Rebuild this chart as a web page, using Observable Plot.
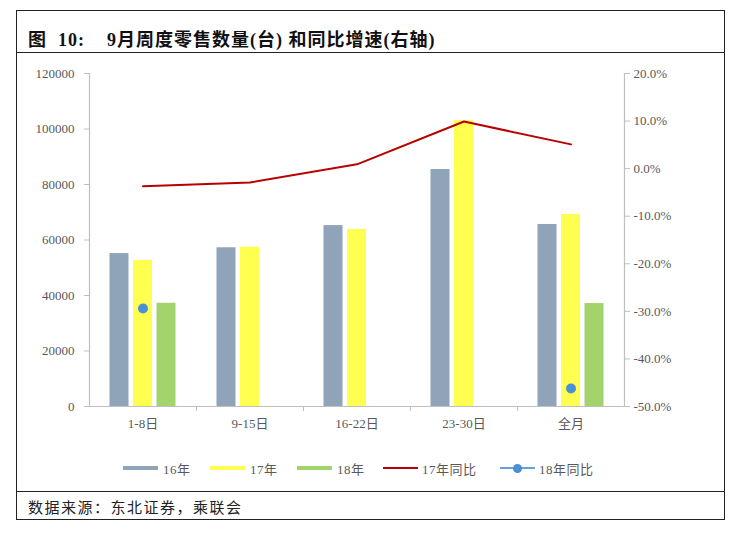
<!DOCTYPE html>
<html>
<head>
<meta charset="utf-8">
<script src="https://cdn.jsdelivr.net/npm/d3@7"></script>
<script src="https://cdn.jsdelivr.net/npm/@observablehq/plot@0.6"></script>
<style>
  html, body { margin: 0; padding: 0; background: #fff; }
  #wrap { position: relative; width: 756px; height: 533px; overflow: hidden; font-family: "Liberation Serif", "Noto Sans CJK SC", serif; }
  .frame { position: absolute; left: 16px; top: 10px; width: 709px; height: 510px; border: 1.5px solid #222; box-sizing: border-box; }
  .hline { position: absolute; left: 16px; width: 709px; height: 0; border-top: 1.5px solid #222; }
  #title { position: absolute; left: 28px; top: 25px; font-size: 18px; letter-spacing: 1px; font-weight: bold; color: #111; white-space: pre; font-family: "Liberation Serif", "Noto Sans CJK SC", serif; }
  #caption { position: absolute; left: 28px; top: 496px; font-size: 15px; letter-spacing: 1.5px; color: #222; font-family: "Noto Sans CJK SC", serif; }
  #chart { position: absolute; left: 0; top: 0; }
  #chart svg text { font-family: "Liberation Serif", "Noto Sans CJK SC", serif; }
  #legend { position: absolute; top: 459px; left: 0; width: 756px; height: 18px; font-size: 13px; color: #595959; font-family: "Liberation Serif", "Noto Sans CJK SC", serif; }
  .item { position: absolute; top: 0; height: 18px; display: flex; align-items: center; }
  .sw { display: inline-block; width: 35px; height: 4px; margin-right: 5px; }
  .ln { position: relative; display: inline-block; width: 35px; height: 2px; margin-right: 4px; }
  .dot { position: absolute; left: 13px; top: -3.5px; width: 9px; height: 9px; border-radius: 50%; }
</style>
</head>
<body>
<div id="wrap">
  <div class="frame"></div>
  <div class="hline" style="top:52px"></div>
  <div class="hline" style="top:491px"></div>
  <div id="title"></div>
  <div id="chart"></div>
  <div id="legend"></div>
  <div id="caption"></div>
</div>
<script>
// ---- data ----
const titleText = "图  10:    9月周度零售数量(台) 和同比增速(右轴)";
const captionText = "数据来源：东北证券，乘联会";
const categories = ["1-8日", "9-15日", "16-22日", "23-30日", "全月"];
const sales16 = [55100, 57200, 65200, 85400, 65600];
const sales17 = [52600, 57400, 63800, 103000, 69200];
const sales18 = [37200, null, null, null, 37100];
const yoy17 = [-3.7, -2.9, 0.9, 9.9, 5.1];
const yoy18 = [-29.4, null, null, null, -46.2];
const leftTicks = [0, 20000, 40000, 60000, 80000, 100000, 120000];
const rightTicks = [-50, -40, -30, -20, -10, 0, 10, 20];
const seriesNames = ["16年", "17年", "18年", "17年同比", "18年同比"];

// ---- styles ----
const colors = {"16年": "#8fa3b9", "17年": "#ffff4f", "18年": "#a3d46c", "17年同比": "#b80000", "18年同比": "#4a90d6"};

// secondary axis mapping (percent -> left scale units)
const pctToLeft = d3.scaleLinear().domain([-50, 20]).range([0, 120000]);

const bars = [];
categories.forEach((c, i) => {
  [[seriesNames[0], sales16], [seriesNames[1], sales17], [seriesNames[2], sales18]].forEach(([s, arr]) => {
    if (arr[i] != null) bars.push({cat: c, series: s, value: arr[i]});
  });
});
const line17 = categories.map((c, i) => ({cat: c, v: pctToLeft(yoy17[i])}));
const dots18 = categories.map((c, i) => ({cat: c, v: yoy18[i] == null ? null : pctToLeft(yoy18[i])})).filter(d => d.v != null);

const offsets = {"16年": -23.5, "17年": 0, "18年": 23.5};
const barMarks = seriesNames.slice(0, 3).map(s => Plot.barY(bars.filter(d => d.series === s), {
  x: "cat", y: "value", fill: colors[s], dx: offsets[s], insetLeft: 44, insetRight: 44
}));

const chart = Plot.plot({
  width: 756,
  height: 440,
  marginLeft: 89,
  marginRight: 132,
  marginTop: 73,
  marginBottom: 34,
  style: {fontFamily: "'Liberation Serif', 'Noto Sans CJK SC', serif", fontSize: "13px", color: "#595959", background: "transparent"},
  x: {type: "band", domain: categories, padding: 0},
  y: {domain: [0, 120000]},
  marks: [
    ...barMarks,
    Plot.ruleY([0], {stroke: "#bfbfbf", strokeWidth: 1.2}),
    Plot.frame({anchor: "left", stroke: "#bfbfbf", strokeWidth: 1.2}),
    Plot.frame({anchor: "right", stroke: "#bfbfbf", strokeWidth: 1.2}),
    Plot.ruleX(categories.slice(1), {x: d => d, y1: 0, y2: 0, dx: -53.5, insetBottom: -5, stroke: "#bfbfbf"}),
    Plot.axisY(leftTicks, {anchor: "left", tickSize: 5, tickPadding: 10, stroke: "#bfbfbf", tickFormat: d3.format("d"), label: null, fontSize: 13, style: "letter-spacing:1px"}),
    Plot.axisY(rightTicks.map(v => pctToLeft(v)), {anchor: "right", tickSize: 5, tickPadding: 4, stroke: "#bfbfbf", tickFormat: v => pctToLeft.invert(v).toFixed(1) + "%", label: null, fontSize: 13, style: "letter-spacing:1.2px"}),
    Plot.axisX({anchor: "bottom", tickSize: 0, tickPadding: 12, label: null, fontSize: 13}),
    Plot.lineY(line17, {x: "cat", y: "v", stroke: colors["17年同比"], strokeWidth: 2}),
    Plot.dot(dots18, {x: "cat", y: "v", r: 5, fill: colors["18年同比"], stroke: "none"})
  ]
});
document.getElementById("chart").appendChild(chart);

document.getElementById("title").textContent = titleText;
document.getElementById("caption").textContent = captionText;

// legend
const legendX = [123, 210, 297, 383, 500];
const legend = document.getElementById("legend");
seriesNames.forEach((s, i) => {
  const it = document.createElement("div");
  it.className = "item";
  it.style.left = legendX[i] + "px";
  if (i < 3) {
    const sw = document.createElement("span");
    sw.className = "sw";
    sw.style.background = colors[s];
    it.appendChild(sw);
  } else {
    const ln = document.createElement("span");
    ln.className = "ln";
    ln.style.background = colors[s];
    if (i === 4) {
      ln.style.background = "#6a9fd8";
      const d = document.createElement("span");
      d.className = "dot";
      d.style.background = colors[s];
      ln.appendChild(d);
    }
    it.appendChild(ln);
  }
  const t = document.createElement("span");
  t.textContent = s;
  t.style.letterSpacing = "0.5px";
  it.appendChild(t);
  legend.appendChild(it);
});
</script>
</body>
</html>
